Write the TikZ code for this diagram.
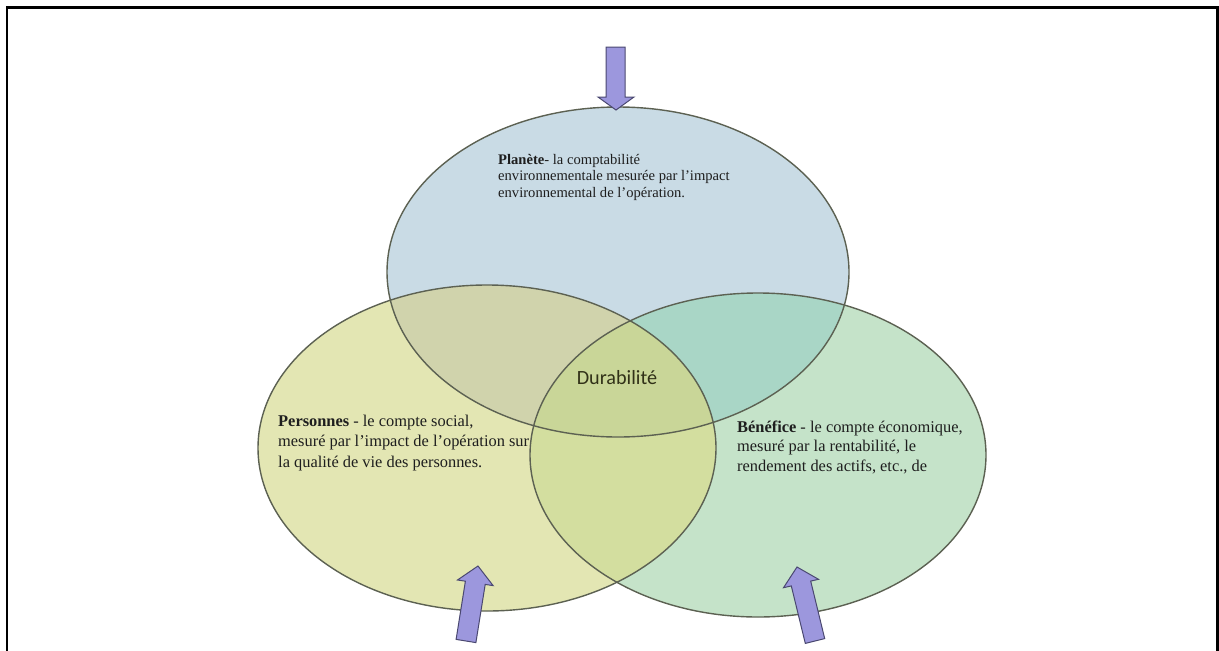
\documentclass[tikz,border=0pt]{standalone}
\usepackage{fontspec}
\setmainfont{Liberation Serif}
\newfontfamily\durafont{Carlito}
\begin{document}
\begin{tikzpicture}[x=1pt,y=-1pt,
  ring/.style={draw=ringline,line width=1.4pt},
  fatarrow/.style={fill=arrowfill,draw=arrowline,line width=1pt,line join=miter},
  bodytext/.style={inner sep=0pt,anchor=base west,align=left,text=textdark},
  frameline/.style={draw=black,line width=2.2pt}]
\definecolor{ringline}{HTML}{5C6152}
\definecolor{arrowfill}{HTML}{9C97DD}
\definecolor{arrowline}{HTML}{4A4870}
\definecolor{textdark}{HTML}{1E1E1E}
\definecolor{planetfill}{HTML}{C9DBE5}
\definecolor{peoplefill}{HTML}{E3E6B3}
\definecolor{profitfill}{HTML}{C5E3C9}
\definecolor{pplanet}{HTML}{D0D3AC}
\definecolor{prplanet}{HTML}{A9D6C6}
\definecolor{ppprofit}{HTML}{D3DE9F}
\definecolor{coreill}{HTML}{C9D698}
\useasboundingbox (0,0) rectangle (1219,651);
% outer frame, open at the bottom
\draw[frameline] (7,651) -- (7,7.5) -- (1217.5,7.5) -- (1217.5,651);
% the three circles
\def\planet{(618,272) ellipse [x radius=231, y radius=165]}
\def\people{(487,448) ellipse [x radius=229, y radius=163]}
\def\profit{(758,455) ellipse [x radius=228, y radius=162]}
\fill[planetfill] \planet;
\fill[peoplefill] \people;
\fill[profitfill] \profit;
\begin{scope}
  \clip \planet;
  \fill[pplanet] \people;
  \fill[prplanet] \profit;
\end{scope}
\begin{scope}
  \clip \people;
  \fill[ppprofit] \profit;
\end{scope}
\begin{scope}
  \clip \planet;
  \clip \people;
  \fill[coreill] \profit;
\end{scope}
\draw[ring] \planet;
\draw[ring] \people;
\draw[ring] \profit;
% arrows
\draw[fatarrow] (606,47) -- (625,47) -- (625,97) -- (634,97) -- (616,110)
  -- (598,97) -- (606,97) -- cycle;
\draw[fatarrow] (475.9,642.6) -- (485.2,584.4) -- (493.1,585.6) -- (478,566)
  -- (457.5,580.0) -- (465.4,581.2) -- (456.1,639.4) -- cycle;
\draw[fatarrow] (824.7,638.6) -- (810.7,581.1) -- (818.5,579.3) -- (797,567)
  -- (783.5,587.7) -- (791.3,585.9) -- (805.3,643.4) -- cycle;
% labels (anchored on the baseline of the last line)
\node[bodytext,font=\fontsize{14.6}{16.5}\selectfont] (planettext) at (498,197)
  {\textbf{Planète}- la comptabilité\\environnementale mesurée par l'impact\\environnemental de l'opération.};
\node[bodytext,font=\fontsize{16.4}{20.5}\selectfont] (peopletext) at (278,467)
  {\textbf{Personnes} - le compte social,\\mesuré par l'impact de l'opération sur\\la qualité de vie des personnes.};
\node[bodytext,font=\fontsize{16.4}{19.5}\selectfont] (profittext) at (737,471)
  {\textbf{Bénéfice} - le compte économique,\\mesuré par la rentabilité, le\\rendement des actifs, etc., de};
\node[inner sep=0pt,anchor=base,text=textdark!80!olive,font=\durafont\fontsize{20.2}{22}\selectfont] (core) at (617,384) {Durabilité};
\end{tikzpicture}
\end{document}
